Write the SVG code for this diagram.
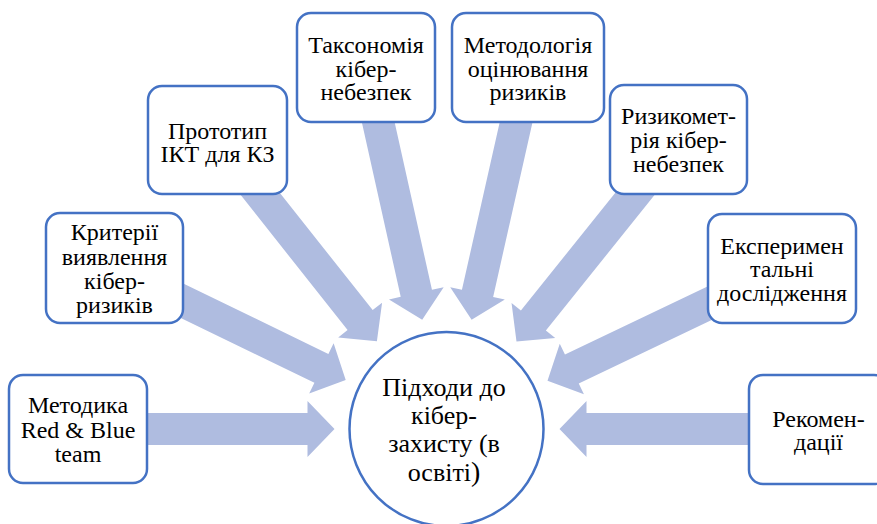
<svg xmlns="http://www.w3.org/2000/svg" xmlns:xlink="http://www.w3.org/1999/xlink" width="877" height="524" viewBox="0 0 877 524">
  <style>
    .box { fill: #ffffff; stroke: #4472C4; stroke-width: 2.5; }
    .arrow { fill: #AFBCE0; stroke: none; }
  </style>
  <defs>
    <path id="blk" class="arrow" d="M -262,-16 L -27,-16 L -27,-28 L 0,0 L -27,28 L -27,16 L -262,16 Z"/>
  </defs>
  <rect width="877" height="524" fill="#ffffff"/>

  <g id="connectors">
    <use xlink:href="#blk" transform="translate(334.5,429) rotate(0)"/>
    <use xlink:href="#blk" transform="translate(345.7,380.1) rotate(25.87)"/>
    <use xlink:href="#blk" transform="translate(376.9,341.2) rotate(51.61)"/>
    <use xlink:href="#blk" transform="translate(422.2,319.7) rotate(77.45)"/>
    <use xlink:href="#blk" transform="translate(471.6,319.7) rotate(102.7)"/>
    <use xlink:href="#blk" transform="translate(516.5,341.6) rotate(128.71)"/>
    <use xlink:href="#blk" transform="translate(547.5,380.7) rotate(154.44)"/>
    <use xlink:href="#blk" transform="translate(559.5,429) rotate(180)"/>
  </g>

  <g id="center">
    <circle cx="446.5" cy="429" r="97" fill="#ffffff" stroke="#4472C4" stroke-width="2.5"/>
    <text font-family="Liberation Serif" font-size="26" text-anchor="middle" x="444" y="396">Підходи до</text>
    <text font-family="Liberation Serif" font-size="26" text-anchor="middle" x="444" y="424">кібер-</text>
    <text font-family="Liberation Serif" font-size="26" text-anchor="middle" x="444" y="452">захисту (в</text>
    <text font-family="Liberation Serif" font-size="26" text-anchor="middle" x="444" y="480.5">освіті<tspan font-size="28">)</tspan></text>
  </g>

  <g id="n1">
    <rect class="box" x="9" y="375" width="138" height="108" rx="14"/>
    <text font-family="Liberation Serif" font-size="24" text-anchor="middle" x="78" y="413">Методика</text>
    <text font-family="Liberation Serif" font-size="24" text-anchor="middle" x="78" y="437.5">Red &amp; Blue</text>
    <text font-family="Liberation Serif" font-size="24" text-anchor="middle" x="78" y="462">team</text>
  </g>

  <g id="n2">
    <rect class="box" x="46" y="213" width="137" height="110" rx="14"/>
    <text font-family="Liberation Serif" font-size="24" text-anchor="middle" x="114.5" y="240">Критерії</text>
    <text font-family="Liberation Serif" font-size="24" text-anchor="middle" x="114.5" y="264.5">виявлення</text>
    <text font-family="Liberation Serif" font-size="24" text-anchor="middle" x="114.5" y="289">кібер-</text>
    <text font-family="Liberation Serif" font-size="24" text-anchor="middle" x="114.5" y="313">ризиків</text>
  </g>

  <g id="n3">
    <rect class="box" x="148" y="86" width="139" height="108" rx="14"/>
    <text font-family="Liberation Serif" font-size="24" text-anchor="middle" x="217.5" y="138.5">Прототип</text>
    <text font-family="Liberation Serif" font-size="24" text-anchor="middle" x="217.5" y="162">ІКТ для КЗ</text>
  </g>

  <g id="n4">
    <rect class="box" x="297" y="13" width="138" height="109" rx="14"/>
    <text font-family="Liberation Serif" font-size="24" text-anchor="middle" x="366" y="53">Таксономія</text>
    <text font-family="Liberation Serif" font-size="24" text-anchor="middle" x="366" y="76.5">кібер-</text>
    <text font-family="Liberation Serif" font-size="24" text-anchor="middle" x="366" y="100">небезпек</text>
  </g>

  <g id="n5">
    <rect class="box" x="452" y="13" width="152" height="109" rx="14"/>
    <text font-family="Liberation Serif" font-size="24" text-anchor="middle" x="528" y="53">Методологія</text>
    <text font-family="Liberation Serif" font-size="24" text-anchor="middle" x="528" y="76.5">оцінювання</text>
    <text font-family="Liberation Serif" font-size="24" text-anchor="middle" x="528" y="100">ризиків</text>
  </g>

  <g id="n6">
    <rect class="box" x="610" y="85" width="137" height="109" rx="14"/>
    <text font-family="Liberation Serif" font-size="24" text-anchor="middle" x="678.5" y="124">Ризикомет-</text>
    <text font-family="Liberation Serif" font-size="24" text-anchor="middle" x="678.5" y="148">рія кібер-</text>
    <text font-family="Liberation Serif" font-size="24" text-anchor="middle" x="678.5" y="172">небезпек</text>
  </g>

  <g id="n7">
    <rect class="box" x="708" y="214" width="148" height="109" rx="14"/>
    <text font-family="Liberation Serif" font-size="24" text-anchor="middle" x="782" y="253.5">Експеримен</text>
    <text font-family="Liberation Serif" font-size="24" text-anchor="middle" x="782" y="277">тальні</text>
    <text font-family="Liberation Serif" font-size="24" text-anchor="middle" x="782" y="300.5">дослідження</text>
  </g>

  <g id="n8">
    <rect class="box" x="749" y="375" width="139" height="109" rx="14"/>
    <text font-family="Liberation Serif" font-size="24" text-anchor="middle" x="818.5" y="426.5">Рекомен-</text>
    <text font-family="Liberation Serif" font-size="24" text-anchor="middle" x="818.5" y="450">дації</text>
  </g>
</svg>
